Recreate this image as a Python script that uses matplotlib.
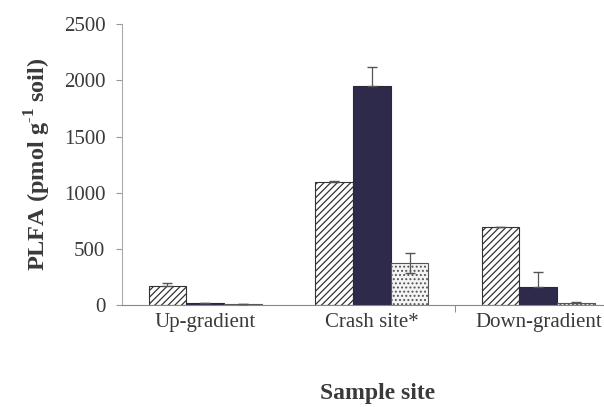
import matplotlib
matplotlib.use("Agg")
import matplotlib.pyplot as plt
import numpy as np

# values (pmol g-1 soil)
sites = ["Up-gradient", "Crash site*", "Down-gradient"]
hatched_vals = [165, 1095, 695]
hatched_err = [30, 10, 0]
dark_vals = [15, 1950, 160]
dark_err = [5, 170, 135]
light_vals = [10, 375, 20]
light_err = [3, 90, 5]

plt.rcParams["font.family"] = ["Liberation Serif", "DejaVu Serif"]
plt.rcParams["mathtext.fontset"] = "custom"
plt.rcParams["mathtext.rm"] = "Liberation Serif"
plt.rcParams["mathtext.bf"] = "Liberation Serif:bold"
plt.rcParams["hatch.linewidth"] = 0.9

fig = plt.figure(figsize=(6.04, 4.07), dpi=100)
ax = fig.add_axes([0.202, 0.2506, 0.827, 0.690])

x = np.arange(len(sites))
w = 0.227
ink = "#3a3a3a"

ax.bar(x - w, hatched_vals, w, color="white", edgecolor="#333333",
       hatch="/////", linewidth=0.8, zorder=2)
ax.errorbar(x - w, hatched_vals, yerr=[np.zeros(3), hatched_err], fmt="none",
            ecolor="#555555", elinewidth=0.9, capsize=3.5, zorder=3)

ax.bar(x, dark_vals, w, color="#2e2a4c", edgecolor="#2a2838",
       linewidth=0.8, zorder=2)
ax.errorbar(x, dark_vals, yerr=[np.zeros(3), dark_err], fmt="none",
            ecolor="#555555", elinewidth=0.9, capsize=3.5, zorder=3)

ax.bar(x + w, light_vals, w, color="#f4f4f4", edgecolor="#555555",
       hatch="....", linewidth=0.8, zorder=2)
ax.errorbar(x + w, light_vals, yerr=light_err, fmt="none",
            ecolor="#555555", elinewidth=0.9, capsize=3.5, zorder=3)

ax.set_xlim(-0.5, 2.5)
ax.set_ylim(0, 2500)
ax.set_yticks([0, 500, 1000, 1500, 2000, 2500])
ax.set_xticks(x)
ax.set_xticklabels(sites)
ax.set_xticks([1.5], minor=True)
ax.tick_params(axis="x", which="major", length=0, pad=6,
               labelsize=15, labelcolor=ink)
ax.tick_params(axis="x", which="minor", length=5, color="#777777",
               direction="out")
ax.tick_params(axis="y", length=4, color="#999999", direction="out",
               labelsize=15, labelcolor=ink, pad=8)

for s in ("top", "right"):
    ax.spines[s].set_visible(False)
ax.spines["left"].set_color("#aaaaaa")
ax.spines["bottom"].set_color("#888888")

ax.set_ylabel(r"PLFA (pmol g$^{\mathbf{\text{-}1}}$ soil)", fontsize=17.5,
              fontweight="bold", color=ink, labelpad=8)
fig.text(0.625, 0.02, "Sample site", fontsize=17, fontweight="bold",
         color=ink, ha="center")

fig.savefig("out.png", dpi=100)
